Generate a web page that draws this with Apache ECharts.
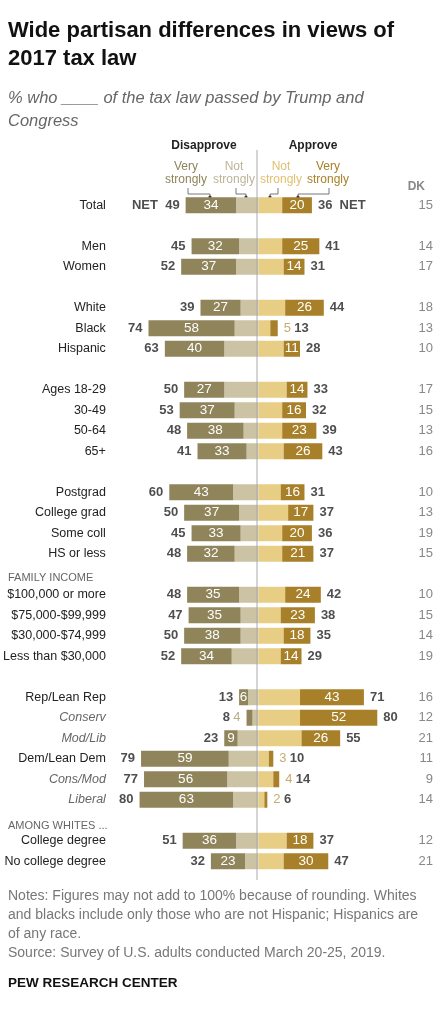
<!DOCTYPE html>
<html><head><meta charset="utf-8">
<script src="https://cdn.jsdelivr.net/npm/echarts@6/dist/echarts.min.js"></script>
<style>html,body{margin:0;padding:0;background:#fff}#c{width:440px;height:1022px}</style>
</head><body><div id="c"></div>
<script>
const categories = ['Total','','Men','Women','','White','Black','Hispanic','','Ages 18-29','30-49','50-64','65+','','Postgrad','College grad','Some coll','HS or less','','$100,000 or more','$75,000-$99,999','$30,000-$74,999','Less than $30,000','','Rep/Lean Rep','Conserv','Mod/Lib','Dem/Lean Dem','Cons/Mod','Liberal','','College degree','No college degree'];
const italicCats = ['Conserv','Mod/Lib','Cons/Mod','Liberal'];
const disVery = [34,null,32,37,null,27,58,40,null,27,37,38,33,null,43,37,33,32,null,35,35,38,34,null,6,4,9,59,56,63,null,36,23];
const disNet  = [49,null,45,52,null,39,74,63,null,50,53,48,41,null,60,50,45,48,null,48,47,50,52,null,13,8,23,79,77,80,null,51,32];
const appVery = [20,null,25,14,null,26,5,11,null,14,16,23,26,null,16,17,20,21,null,24,23,18,14,null,43,52,26,3,4,2,null,18,30];
const appNet  = [36,null,41,31,null,44,13,28,null,33,32,39,43,null,31,37,36,37,null,42,38,35,29,null,71,80,55,10,14,6,null,37,47];
const dk      = [15,null,14,17,null,18,13,10,null,17,15,13,16,null,10,13,19,15,null,10,15,14,19,null,16,12,21,11,9,14,null,12,21];

const C = {dv:'#8f845a', dn:'#cbc3a4', an:'#e8cd85', av:'#a88029'};
const F = '"Liberation Sans", Arial, sans-serif';
const n = categories.length;
const sub = (a,b)=>a.map((v,i)=>v==null?null:a[i]-b[i]);
const disNot = sub(disNet, disVery).map(v=>v==null?null:-v);
const appNot = sub(appNet, appVery);

const inLabel = ()=>({show:true, color:'#fff', fontFamily:F, fontSize:13.5, formatter:p=>Math.abs(p.value)>=6?Math.abs(p.value):''});

const netD = disNet.map((v,i)=>v==null?null:[-v,i]);
const netA = appNet.map((v,i)=>v==null?null:[v,i]);

const gridTop = 195, pitch = 20.5;
const chart = echarts.init(document.getElementById('c'));
chart.setOption({
  animation:false,
  textStyle:{fontFamily:F},
  grid:{left:107, right:33, top:gridTop, height:pitch*n},
  xAxis:{type:'value', min:-100, max:100, show:false},
  yAxis:[{type:'category', data:categories, inverse:true, axisLine:{show:false}, axisTick:{show:false},
      axisLabel:{margin:4, fontSize:12.5, color:'#222', fontFamily:F,
        formatter:v=>italicCats.includes(v)?'{i|'+v+'}':v, rich:{i:{fontStyle:'italic', color:'#666', fontSize:12.5, fontFamily:F}}}},
    {type:'category', data:dk.map(v=>v==null?'':String(v)), inverse:true, position:'right', axisLine:{show:false}, axisTick:{show:false},
      axisLabel:{margin:0, align:'right', fontSize:13, color:'#888', fontFamily:F, padding:[0,-26,0,0]}}],
  series:[
    {type:'bar', stack:'s', data:disNot, barWidth:16, itemStyle:{color:C.dn}},
    {type:'bar', stack:'s', data:disVery.map(v=>v==null?null:-v), barWidth:16, itemStyle:{color:C.dv}, label:inLabel()},
    {type:'bar', stack:'s', data:appNot, barWidth:16, itemStyle:{color:C.an}},
    {type:'bar', stack:'s', data:appVery, barWidth:16, itemStyle:{color:C.av}, label:inLabel()},
    {type:'scatter', symbolSize:0, data:netD, label:{show:true, position:'left', distance:6, fontFamily:F,
      formatter:p=>{const i=p.data[1]; let s='{b|'+disNet[i]+'}'; if(disVery[i]<6) s+=' {c|'+disVery[i]+'}'; if(i===0) s='{b|NET  '+disNet[i]+'}'; return s;},
      rich:{b:{fontWeight:'bold', fontSize:13, color:'#222', fontFamily:F}, c:{fontSize:13, color:'#a8996a', fontFamily:F}}}},
    {type:'scatter', symbolSize:0, data:netA, label:{show:true, position:'right', distance:6, fontFamily:F,
      formatter:p=>{const i=p.data[1]; let s='{b|'+appNet[i]+'}'; if(appVery[i]<6) s='{c|'+appVery[i]+'} '+s; if(i===0) s='{b|'+appNet[i]+'  NET}'; return s;},
      rich:{b:{fontWeight:'bold', fontSize:13, color:'#222', fontFamily:F}, c:{fontSize:13, color:'#b8964a', fontFamily:F}}}}
  ],
  graphic:[
    {type:'line', shape:{x1:257,y1:150,x2:257,y2:880}, style:{stroke:'#aaa', lineWidth:1}, z:10},
    {type:'text', left:8, top:17, style:{text:'Wide partisan differences in views of\n2017 tax law', font:'bold 22px '+F, fill:'#111', lineHeight:28}},
    {type:'text', left:8, top:87, style:{text:'% who ____ of the tax law passed by Trump and\nCongress', font:'italic 16.5px '+F, fill:'#666', lineHeight:23}},
    {type:'text', x:204, y:140, style:{text:'Disapprove', font:'bold 12px '+F, fill:'#222', align:'center'}},
    {type:'text', x:313, y:140, style:{text:'Approve', font:'bold 12px '+F, fill:'#222', align:'center'}},
    {type:'text', x:186, y:160, style:{text:'Very\nstrongly', font:'12px '+F, fill:'#8f845a', align:'center', lineHeight:13}},
    {type:'text', x:234, y:160, style:{text:'Not\nstrongly', font:'12px '+F, fill:'#bdb497', align:'center', lineHeight:13}},
    {type:'text', x:281, y:160, style:{text:'Not\nstrongly', font:'12px '+F, fill:'#e0c170', align:'center', lineHeight:13}},
    {type:'text', x:328, y:160, style:{text:'Very\nstrongly', font:'12px '+F, fill:'#a88029', align:'center', lineHeight:13}},
    {type:'polyline', shape:{points:[[188,188],[188,194],[210,194],[210,197]]}, style:{stroke:'#555', fill:null, lineWidth:0.8}},
    {type:'polyline', shape:{points:[[236,188],[236,194],[246,194],[246,197]]}, style:{stroke:'#555', fill:null, lineWidth:0.8}},
    {type:'polyline', shape:{points:[[278,188],[278,194],[270,194],[270,197]]}, style:{stroke:'#555', fill:null, lineWidth:0.8}},
    {type:'polyline', shape:{points:[[329,188],[329,194],[298,194],[298,197]]}, style:{stroke:'#555', fill:null, lineWidth:0.8}},
    {type:'circle', shape:{cx:210,cy:197,r:1.6}, style:{fill:'#333'}},
    {type:'circle', shape:{cx:246,cy:197,r:1.6}, style:{fill:'#333'}},
    {type:'circle', shape:{cx:270,cy:197,r:1.6}, style:{fill:'#333'}},
    {type:'circle', shape:{cx:298,cy:197,r:1.6}, style:{fill:'#333'}},
    {type:'text', x:425, y:181, style:{text:'DK', font:'bold 12px '+F, fill:'#888', align:'right'}},
    {type:'text', x:8, y:572, style:{text:'FAMILY INCOME', font:'11px '+F, fill:'#666'}},
    {type:'text', x:8, y:820, style:{text:'AMONG WHITES ...', font:'11px '+F, fill:'#666'}},
    {type:'text', left:8, top:887, style:{text:'Notes: Figures may not add to 100% because of rounding. Whites\nand blacks include only those who are not Hispanic; Hispanics are\nof any race.\nSource: Survey of U.S. adults conducted March 20-25, 2019.', font:'14px '+F, fill:'#777', lineHeight:19}},
    {type:'text', left:8, top:976, style:{text:'PEW RESEARCH CENTER', font:'bold 13.5px '+F, fill:'#111'}}
  ]
});
</script></body></html>
